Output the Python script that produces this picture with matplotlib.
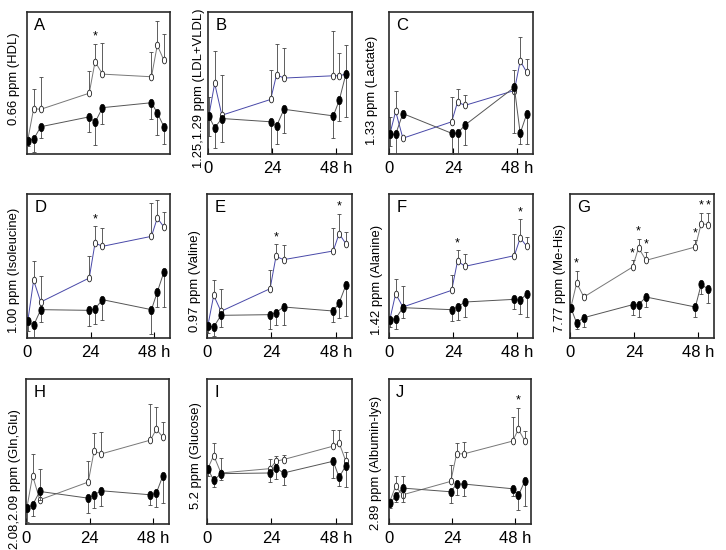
import numpy as np
import matplotlib.pyplot as plt
from matplotlib.path import Path

plt.rcParams['font.family'] = ['Liberation Sans', 'DejaVu Sans']

# sampling times (h)
t = [0.3, 2.5, 5.2, 23.5, 25.7, 28.5, 47, 49.2, 51.7]

# relative intensities (a.u.), open = treated, filled = control
a_open = [43, 138, 136, 185, 281, 243, 235, 331, 285]
a_open_err = [0, 60, 97, 66, 54, 95, 76, 75, 80]
a_fill = [41, 45, 83, 113, 96, 141, 156, 125, 83]
a_fill_err = [18, 40, 35, 45, 70, 50, 48, 67, 52]

b_open = [115, 215, 118, 166, 241, 231, 238, 238, 243]
b_open_err = [58, 98, 123, 89, 94, 90, 135, 70, 88]
b_fill = [115, 80, 108, 98, 85, 136, 116, 163, 243]
b_fill_err = [60, 62, 70, 97, 54, 73, 68, 62, 130]

c_open = [60, 130, 48, 98, 158, 148, 193, 283, 248]
c_open_err = [53, 63, 0, 75, 40, 30, 62, 72, 40]
c_fill = [60, 60, 123, 63, 63, 88, 203, 63, 123]
c_fill_err = [37, 62, 0, 60, 65, 60, 140, 32, 92]

d_open = [51, 173, 108, 180, 285, 275, 305, 360, 333]
d_open_err = [0, 57, 77, 65, 50, 56, 100, 55, 45]
d_fill = [51, 38, 85, 83, 88, 115, 85, 138, 198]
d_fill_err = [30, 35, 37, 47, 47, 60, 72, 45, 105]

e_open = [36, 128, 80, 148, 245, 235, 261, 313, 283]
e_open_err = [0, 45, 68, 57, 36, 43, 70, 60, 35]
e_fill = [36, 33, 68, 70, 76, 93, 81, 105, 158]
e_fill_err = [20, 28, 35, 42, 38, 55, 33, 44, 93]

f_open = [55, 133, 93, 143, 231, 215, 247, 300, 275]
f_open_err = [0, 43, 62, 47, 32, 36, 66, 56, 28]
f_fill = [55, 58, 91, 85, 93, 108, 116, 113, 133]
f_fill_err = [22, 30, 30, 34, 38, 45, 28, 40, 70]

g_open = [91, 165, 123, 213, 271, 233, 273, 343, 340]
g_open_err = [0, 36, 10, 20, 27, 25, 20, 32, 35]
g_fill = [91, 45, 61, 100, 100, 123, 93, 161, 147]
g_fill_err = [0, 19, 28, 32, 37, 30, 30, 28, 42]

h_open = [47, 144, 72, 125, 217, 209, 250, 282, 259]
h_open_err = [0, 66, 92, 64, 53, 65, 107, 68, 46]
h_fill = [47, 57, 97, 77, 87, 99, 87, 92, 144]
h_fill_err = [40, 32, 25, 43, 40, 45, 30, 40, 82]

i_open = [165, 204, 152, 165, 187, 192, 232, 242, 187]
i_open_err = [0, 38, 45, 29, 17, 15, 47, 37, 27]
i_fill = [165, 130, 150, 152, 167, 152, 187, 139, 174]
i_fill_err = [23, 20, 18, 28, 33, 35, 50, 27, 65]

j_open = [67, 112, 87, 127, 209, 209, 247, 282, 247]
j_open_err = [0, 32, 57, 50, 31, 35, 72, 65, 30]
j_fill = [62, 82, 107, 96, 119, 119, 105, 85, 129]
j_fill_err = [15, 15, 40, 32, 32, 37, 23, 43, 74]

# significance marks (index into t)
a_stars = [4]
d_stars = [4]
e_stars = [4, 7]
f_stars = [4, 7]
g_stars = [1, 3, 4, 5, 6, 7, 8]
j_stars = [7]

W, H = 726, 550
blue = '#4848a8'
grey = '#777777'

# letter, label, data, stars, open line colour, axes box (px), label x, label bottom (px), tick labels
panels = [
    ('A', '0.66 ppm (HDL)', (a_open, a_open_err, a_fill, a_fill_err), a_stars, grey, (27, 12, 170, 154), 14, 125, False),
    ('B', '1.25,1.29 ppm (LDL+VLDL)', (b_open, b_open_err, b_fill, b_fill_err), [], blue, (208, 12, 352, 154), 199, 168, True),
    ('C', '1.33 ppm (Lactate)', (c_open, c_open_err, c_fill, c_fill_err), [], blue, (389, 12, 533, 154), 372, 145, True),
    ('D', '1.00 ppm (Isoleucine)', (d_open, d_open_err, d_fill, d_fill_err), d_stars, blue, (27, 194, 170, 338), 14, 333, True),
    ('E', '0.97 ppm (Valine)', (e_open, e_open_err, e_fill, e_fill_err), e_stars, blue, (207, 194, 352, 338), 195, 332, True),
    ('F', '1.42 ppm (Alanine)', (f_open, f_open_err, f_fill, f_fill_err), f_stars, blue, (389, 194, 533, 338), 377, 335, True),
    ('G', '7.77 ppm (Me-His)', (g_open, g_open_err, g_fill, g_fill_err), g_stars, grey, (570, 194, 714, 338), 560, 332, True),
    ('H', '2.08,2.09 ppm (Gln,Glu)', (h_open, h_open_err, h_fill, h_fill_err), [], grey, (26, 379, 169, 524), 15, 549, True),
    ('I', '5.2 ppm (Glucose)', (i_open, i_open_err, i_fill, i_fill_err), [], grey, (207, 379, 352, 524), 196, 509, True),
    ('J', '2.89 ppm (Albumin-lys)', (j_open, j_open_err, j_fill, j_fill_err), j_stars, grey, (389, 379, 531, 524), 376, 530, True),
]

th = np.linspace(0, 2 * np.pi, 41)
oval = Path(np.column_stack([0.64 * np.cos(th), np.sin(th)]))

fig = plt.figure(figsize=(W / 100, H / 100), dpi=100)

for letter, label, (op, op_err, fi, fi_err), stars, ocol, box, lx, lb, show_ticks in panels:
    x0, y0, x1, y1 = box
    ax = fig.add_axes([x0 / W, 1 - y1 / H, (x1 - x0) / W, (y1 - y0) / H])
    zeros = np.zeros(len(t))

    ax.plot(t, op, color=ocol, lw=0.7, zorder=2)
    ax.errorbar(t, op, yerr=[zeros, op_err], fmt='none', ecolor='#444444',
                elinewidth=0.6, capsize=1.5, capthick=0.6, zorder=2)
    ax.plot(t, op, ls='none', marker=oval, ms=4.8, mfc='white', mec='#222222',
            mew=0.6, zorder=3)

    ax.plot(t, fi, color='#555555', lw=0.7, zorder=4)
    ax.errorbar(t, fi, yerr=[fi_err, zeros], fmt='none', ecolor='#444444',
                elinewidth=0.6, capsize=1.5, capthick=0.6, zorder=4)
    ax.plot(t, fi, ls='none', marker=oval, ms=6, mfc='black', mec='black',
            mew=0.5, zorder=5)

    for k in stars:
        ax.annotate('*', (t[k], op[k] + op_err[k]), xytext=(0, 1),
                    textcoords='offset points', ha='center', va='bottom',
                    fontsize=9, zorder=6)

    ax.set_xlim(0, 54)
    ax.set_ylim(0, 432)
    ax.set_yticks([])
    if show_ticks:
        ax.set_xticks([0, 24, 48])
        ax.set_xticklabels(['0', '24', '48 h'], fontsize=12)
        ax.tick_params(axis='x', direction='in', length=4, width=0.8, pad=5)
    else:
        ax.set_xticks([])
    for s in ax.spines.values():
        s.set_color('#2a2a2a')
        s.set_linewidth(1.2)

    ax.text(0.05, 0.96, letter, transform=ax.transAxes, ha='left', va='top',
            fontsize=12)
    fig.text(lx / W, 1 - lb / H, label, rotation=90, ha='center', va='bottom',
             fontsize=9.4)

fig.savefig('out.png', dpi=100)
